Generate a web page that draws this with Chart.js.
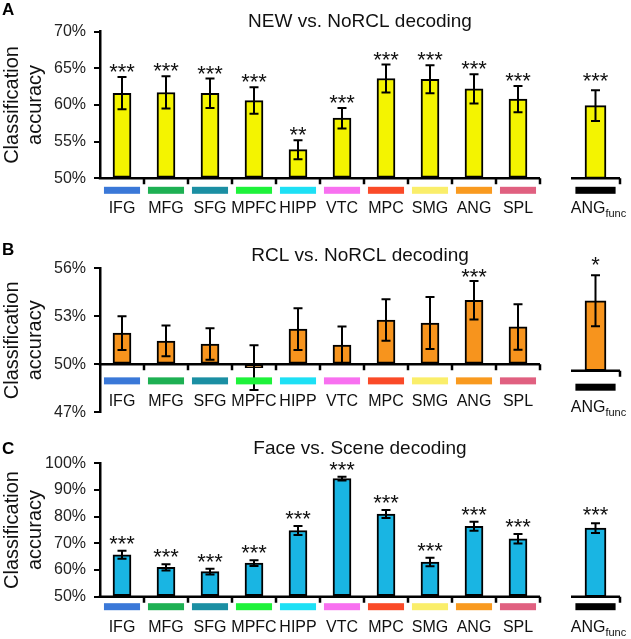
<!DOCTYPE html>
<html>
<head>
<meta charset="utf-8">
<script src="https://cdn.jsdelivr.net/npm/chart.js@4.4.1/dist/chart.umd.min.js"></script>
<style>
  body { margin: 0; background: #fff; width: 631px; height: 639px; overflow: hidden; position: relative; }
  canvas { position: absolute; }
</style>
</head>
<body>
<canvas id="mainA"></canvas><canvas id="funcA"></canvas>
<canvas id="mainB"></canvas><canvas id="funcB"></canvas>
<canvas id="mainC"></canvas><canvas id="funcC"></canvas>
<script>
const FONT = "'Liberation Sans', Arial, sans-serif";

// categories and strip colours
const categories = ['IFG', 'MFG', 'SFG', 'MPFC', 'HIPP', 'VTC', 'MPC', 'SMG', 'ANG', 'SPL'];
const stripColors = ['#3a78d8', '#1eb053', '#1b8fa3', '#1ef23a', '#1de0f5', '#f870f0', '#fa4a28', '#faee6a', '#f99a1f', '#e06080'];
const funcLabel = 'ANG';
const funcSub = 'func';
const funcStripColor = '#000000';

// A: NEW vs. NoRCL
const newValues = [61.6, 61.7, 61.6, 60.6, 53.9, 58.2, 63.6, 63.5, 62.2, 60.8];
const newErrors = [2.2, 2.2, 2.0, 1.8, 1.3, 1.4, 1.9, 1.9, 2.0, 1.8];
const newStars = ['***', '***', '***', '***', '**', '***', '***', '***', '***', '***'];
const newFunc = [59.9];
const newFuncErr = [2.1];
const newFuncStars = ['***'];

// B: RCL vs. NoRCL
const rclValues = [51.95, 51.46, 51.27, 49.8, 52.2, 51.21, 52.77, 52.58, 54.0, 52.34];
const rclErrors = [1.05, 0.96, 0.98, 1.4, 1.3, 1.15, 1.3, 1.62, 1.2, 1.42];
const rclStars = ['', '', '', '', '', '', '', '', '***', ''];
const rclFunc = [54.1];
const rclFuncErr = [1.5];
const rclFuncStars = ['*'];

// C: Face vs. Scene
const faceValues = [65.7, 61.0, 59.4, 62.6, 74.8, 94.3, 81.0, 63.0, 76.4, 71.7];
const faceErrors = [1.5, 1.2, 1.1, 1.1, 1.7, 0.7, 1.5, 1.6, 1.7, 1.8];
const faceStars = ['***', '***', '***', '***', '***', '***', '***', '***', '***', '***'];
const faceFunc = [75.7];
const faceFuncErr = [1.8];
const faceFuncStars = ['***'];

const panels = [
  { id: 'A', title: 'NEW vs. NoRCL decoding', top: 0, height: 222, chartTop: 31.6, chartBottom: 178.3,
    min: 50, max: 70, step: 5, base: 50, color: '#f4f400',
    values: newValues, errors: newErrors, stars: newStars,
    fValues: newFunc, fErrors: newFuncErr, fStars: newFuncStars,
    letterY: 15, titleY: 26.7, stripOff: 12, labelOff: 35, starGap: 7, fStarGap: 11 },
  { id: 'B', title: 'RCL vs. NoRCL decoding', top: 222, height: 208, chartTop: 268.3, chartBottom: 421.9,
    min: 47, max: 56, step: 3, base: 50, color: '#f7941d',
    values: rclValues, errors: rclErrors, stars: rclStars,
    fValues: rclFunc, fErrors: rclFuncErr, fStars: rclFuncStars,
    letterY: 32.7, titleY: 38.5, stripOff: 16.5, labelOff: 41.5, starGap: 6, fStarGap: 12 },
  { id: 'C', title: 'Face vs. Scene decoding', top: 430, height: 209, chartTop: 463.3, chartBottom: 596.7,
    min: 50, max: 100, step: 10, base: 50, color: '#19b5e3',
    values: faceValues, errors: faceErrors, stars: faceStars,
    fValues: faceFunc, fErrors: faceFuncErr, fStars: faceFuncStars,
    letterY: 24.3, titleY: 24.3, stripOff: 10, labelOff: 35.7, starGap: 9, fStarGap: 10 }
];

const decor = {
  id: 'decor',
  afterDatasetsDraw(chart, args, o) {
    const p = o.panel, isFunc = o.isFunc;
    const { ctx, chartArea, scales: { x, y } } = chart;
    const meta = chart.getDatasetMeta(0);
    const vals = isFunc ? p.fValues : p.values;
    const errs = isFunc ? p.fErrors : p.errors;
    const stars = isFunc ? p.fStars : p.stars;
    const gap = isFunc ? p.fStarGap : p.starGap;
    const labels = chart.data.labels;
    ctx.save();

    // error bars + stars
    ctx.strokeStyle = '#000';
    ctx.lineWidth = 2;
    meta.data.forEach((bar, i) => {
      const hi = y.getPixelForValue(vals[i] + errs[i]);
      const lo = y.getPixelForValue(vals[i] - errs[i]);
      ctx.beginPath();
      ctx.moveTo(bar.x, hi); ctx.lineTo(bar.x, lo);
      ctx.moveTo(bar.x - 4.5, hi); ctx.lineTo(bar.x + 4.5, hi);
      ctx.moveTo(bar.x - 4.5, lo); ctx.lineTo(bar.x + 4.5, lo);
      ctx.stroke();
      if (stars[i]) {
        ctx.fillStyle = '#111';
        ctx.font = '22px ' + FONT;
        ctx.textAlign = 'center';
        ctx.textBaseline = 'alphabetic';
        ctx.fillText(stars[i], bar.x, hi - gap + 9);
      }
    });

    // x axis line with boundary ticks
    const y0 = y.getPixelForValue(p.base);
    const n = labels.length;
    const step = (chartArea.right - chartArea.left) / n;
    ctx.lineWidth = 2.5;
    ctx.beginPath();
    ctx.moveTo(chartArea.left - (isFunc ? 0 : 1.25), y0);
    ctx.lineTo(chartArea.right, y0);
    for (let i = 1; i <= n; i++) {
      const bx = chartArea.left + i * step;
      ctx.moveTo(bx, y0);
      ctx.lineTo(bx, y0 + 6);
    }
    ctx.stroke();

    // colour strips and labels
    labels.forEach((lab, i) => {
      const cx = x.getPixelForValue(i);
      ctx.fillStyle = isFunc ? funcStripColor : stripColors[i];
      ctx.fillRect(cx - step * 0.41, y0 + p.stripOff - 3.5, step * 0.82, 7);
      ctx.fillStyle = '#111';
      ctx.textBaseline = 'alphabetic';
      const ly = y0 + p.labelOff;
      if (isFunc) {
        ctx.font = '16px ' + FONT;
        const w1 = ctx.measureText(lab).width;
        ctx.font = '11px ' + FONT;
        const w2 = ctx.measureText(funcSub).width;
        const sx = cx - (w1 + w2) / 2 + 3;
        ctx.textAlign = 'left';
        ctx.font = '16px ' + FONT;
        ctx.fillText(lab, sx, ly);
        ctx.font = '11px ' + FONT;
        ctx.fillText(funcSub, sx + w1, ly + 4);
      } else {
        ctx.font = '16px ' + FONT;
        ctx.textAlign = 'center';
        ctx.fillText(lab, cx, ly);
      }
    });

    // panel letter, title and y axis title (main chart only)
    if (!isFunc) {
      ctx.fillStyle = '#000';
      ctx.textAlign = 'left';
      ctx.font = 'bold 17px ' + FONT;
      ctx.fillText(p.id, 2, p.letterY);
      ctx.fillStyle = '#111';
      ctx.textAlign = 'center';
      ctx.font = '19px ' + FONT;
      ctx.fillText(p.title, 360, p.titleY);
      const cy = (chartArea.top + chartArea.bottom) / 2;
      ctx.font = '20px ' + FONT;
      ctx.translate(18, cy);
      ctx.rotate(-Math.PI / 2);
      ctx.fillText('Classification', 0, 0);
      ctx.fillText('accuracy', 0, 23);
    }
    ctx.restore();
  }
};

function makeChart(canvasId, p, isFunc) {
  const cv = document.getElementById(canvasId);
  const w = isFunc ? 71 : 545;
  cv.width = w; cv.height = p.height;
  cv.style.left = (isFunc ? 560 : 0) + 'px';
  cv.style.top = p.top + 'px';
  cv.style.width = w + 'px'; cv.style.height = p.height + 'px';
  const yScale = {
    display: !isFunc,
    min: p.min, max: p.max,
    ticks: { stepSize: p.step, padding: 8, color: '#222', font: { family: FONT, size: 16 }, callback: v => v + '%' },
    grid: { drawOnChartArea: false, color: '#000', lineWidth: 2, tickLength: 6 },
    border: { color: '#000', width: 2.5 }
  };
  if (!isFunc) yScale.afterFit = s => { s.width = 100; };
  new Chart(cv, {
    type: 'bar',
    data: {
      labels: isFunc ? [funcLabel] : categories,
      datasets: [{
        data: isFunc ? p.fValues : p.values,
        base: p.base,
        backgroundColor: p.color,
        borderColor: '#000',
        borderWidth: 2,
        borderSkipped: false,
        barThickness: isFunc ? 21 : 18
      }]
    },
    options: {
      responsive: false,
      animation: false,
      devicePixelRatio: 1,
      layout: { padding: { top: p.chartTop - p.top, bottom: p.top + p.height - p.chartBottom, left: isFunc ? 11 : 0, right: isFunc ? 11 : 5 } },
      plugins: { legend: { display: false }, tooltip: { enabled: false }, decor: { panel: p, isFunc: isFunc } },
      scales: {
        x: { display: false },
        y: yScale
      }
    },
    plugins: [decor]
  });
}

panels.forEach(p => {
  makeChart('main' + p.id, p, false);
  makeChart('func' + p.id, p, true);
});
</script>
</body>
</html>
